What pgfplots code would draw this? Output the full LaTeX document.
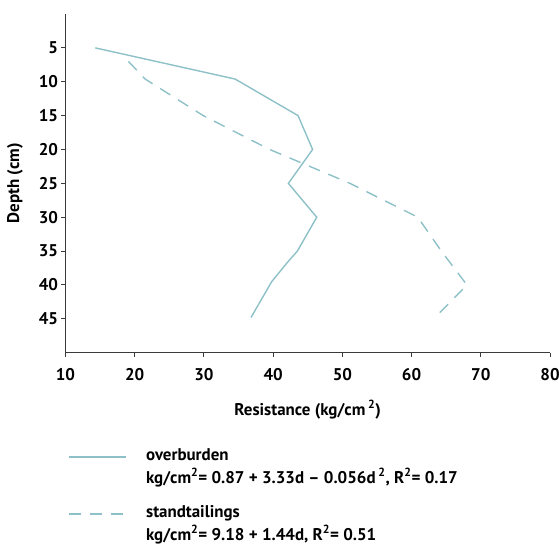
\documentclass[border=0pt]{standalone}
\usepackage{fontspec}
\setmainfont{PT Sans}
\usepackage{pgfplots}
\pgfplotsset{compat=1.18}

\definecolor{lineteal}{HTML}{8DC1C7}
\definecolor{axisgray}{HTML}{3A3A3A}
\newcommand{\chartfont}{\fontsize{17}{23}\selectfont\bfseries}

\begin{document}
\begin{tikzpicture}
\begin{axis}[
    name=main,
    scale only axis,
    width=484.5bp, height=338.7bp,
    xmin=10, xmax=80,
    ymin=0, ymax=50,
    y dir=reverse,
    axis x line=bottom,
    axis y line=left,
    axis line style={-, draw=axisgray, line width=1bp},
    xtick={10,20,...,80},
    ytick={5,10,...,45},
    tick align=outside,
    major tick length=4bp,
    tick style={draw=axisgray, line width=1bp},
    /pgf/number format/assume math mode=true,
    ticklabel style={font=\chartfont},
    xticklabel shift=8bp,
    label style={font=\chartfont},
    xlabel={Resistance (kg/cm\,\textsuperscript{2})},
    xlabel shift=13bp,
    ylabel={Depth (cm)},
    ylabel shift=9bp,
    legend style={
        at={(0.005,-0.276)}, anchor=north west,
        draw=none, fill=none, inner sep=0pt,
        font=\chartfont,
        cells={anchor=west, align=left, inner sep=0pt},
        row sep=16.5bp,
        /tikz/column sep=17bp,
    },
    legend image code/.code={
        \draw[#1, line width=2bp] (0bp,9.5bp) -- (57bp,9.5bp);
        \path (0bp,-9.5bp);
    },
]

% overburden
\addplot[color=lineteal, line width=1.4bp] coordinates {
    (14.3,5) (34.5,9.6) (43.6,15) (45.7,20) (42.2,25)
    (46.3,30) (43.5,35) (42.2,36.5) (39.8,39.5) (36.8,44.8)
};
\addlegendentry{overburden\\kg/cm\textsuperscript{2}= 0.87 + 3.33d -- 0.056d\,\textsuperscript{2}, R\textsuperscript{2}= 0.17}

% standtailings
\addplot[color=lineteal, line width=1.4bp, dash pattern=on 12bp off 9bp] coordinates {
    (19.1,7) (21.5,9.6) (29.9,15) (39.5,20) (51.1,25)
    (60.9,30) (64.3,35) (68,40) (63.4,44.8)
};
\addlegendentry{standtailings\\kg/cm\textsuperscript{2}= 9.18 + 1.44d, R\textsuperscript{2}= 0.51}

\end{axis}
\pgfresetboundingbox
\path[use as bounding box] ([shift={(-65.5bp,-193.3bp)}]main.south west) rectangle ++(559bp,546bp);
\end{tikzpicture}
\end{document}
